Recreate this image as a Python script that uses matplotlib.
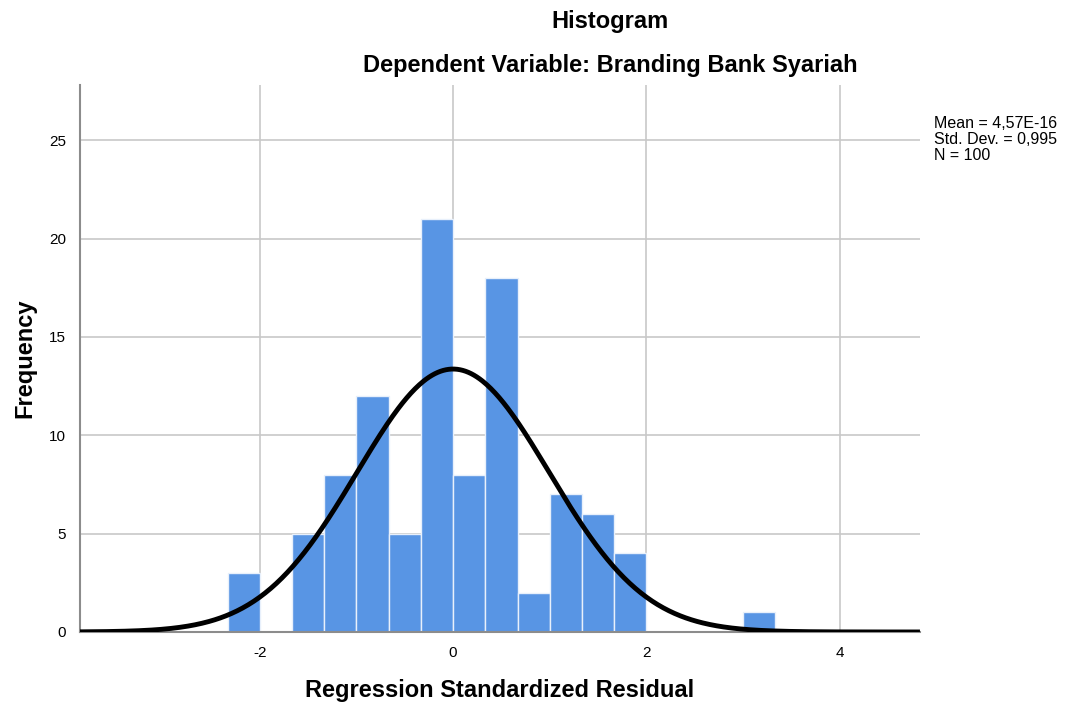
import numpy as np
import matplotlib.pyplot as plt

plt.rcParams['font.family'] = ['Liberation Sans', 'DejaVu Sans']
plt.rcParams['axes.unicode_minus'] = False

# histogram of regression standardized residuals (bin width 1/3)
bin_left = [-7, -6, -5, -4, -3, -2, -1, 0, 1, 2, 3, 4, 5, 6, 7, 8, 9]  # in thirds
counts = [3, 0, 5, 8, 12, 5, 21, 8, 18, 2, 7, 6, 4, 0, 0, 0, 1]
mean = 4.57e-16
std = 0.995
n = 100
bin_width = 1 / 3

fig = plt.figure(figsize=(10.65, 7.1), dpi=100)
ax = fig.add_axes([0.0751, 0.1099, 0.7887, 0.7703])

lefts = np.array(bin_left) * bin_width
ax.bar(lefts, counts, width=bin_width, align='edge', color='#5895e4',
       edgecolor='#e8f0fb', linewidth=1.0, zorder=2)

xs = np.linspace(-3.86, 4.83, 600)
ys = n * bin_width / (std * np.sqrt(2 * np.pi)) * np.exp(-0.5 * ((xs - mean) / std) ** 2)
ax.plot(xs, ys, color='black', lw=3.5, zorder=3, solid_capstyle='butt')

ax.set_xlim(-3.86, 4.83)
ax.set_ylim(0, 27.8)
ax.set_xticks([-2, 0, 2, 4])
ax.set_yticks([0, 5, 10, 15, 20, 25])
ax.grid(True, color='#c8c8c8', lw=1.2, zorder=0)
ax.set_axisbelow(True)
for s in ['top', 'right']:
    ax.spines[s].set_visible(False)
ax.spines['left'].set_color('#8c8c8c')
ax.spines['left'].set_linewidth(1.5)
ax.spines['bottom'].set_color('#8c8c8c')
ax.spines['bottom'].set_linewidth(1.5)
ax.tick_params(length=0, labelsize=11, pad=10)

ax.set_xlabel('Regression Standardized Residual', fontsize=17, fontweight='bold', labelpad=14)
ax.set_ylabel('Frequency', fontsize=17, fontweight='bold', labelpad=9)

fig.text(0.5728, 0.970, 'Histogram', ha='center', va='center', fontsize=17, fontweight='bold')
fig.text(0.5728, 0.908, 'Dependent Variable: Branding Bank Syariah', ha='center', va='center',
         fontsize=17, fontweight='bold')
fig.text(0.877, 0.837, 'Mean = 4,57E-16\nStd. Dev. = 0,995\nN = 100', ha='left', va='top',
         fontsize=11.5, linespacing=1.1)

plt.savefig('out.png', dpi=100)
